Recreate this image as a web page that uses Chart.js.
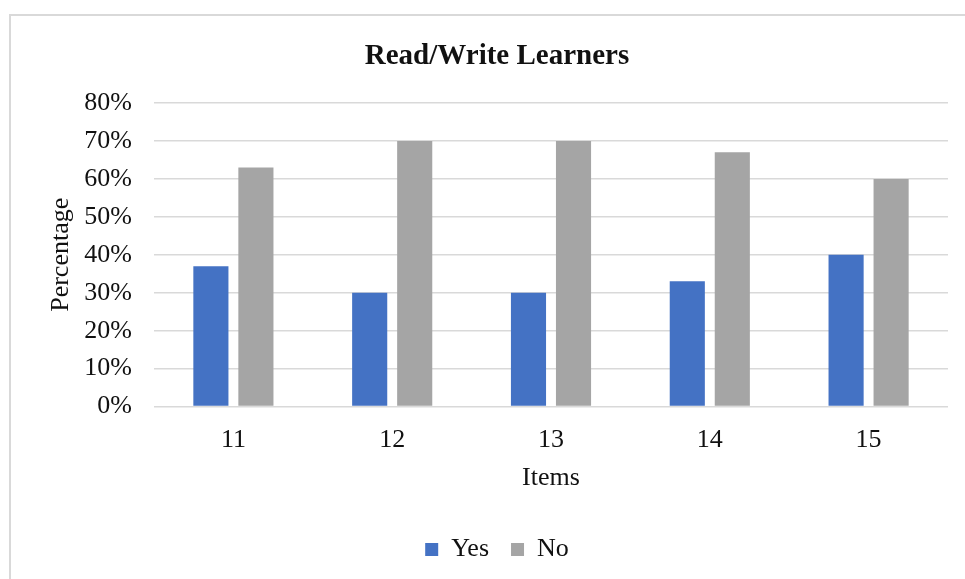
<!DOCTYPE html>
<html>
<head>
<meta charset="utf-8">
<script src="https://cdn.jsdelivr.net/npm/chart.js@4"></script>
<style>
  html, body { margin: 0; padding: 0; background: #fff; overflow: hidden; width: 965px; height: 579px; }
  #frame { position: absolute; left: 9px; top: 14px; width: 1100px; height: 700px; border: 2px solid #d9d9d9; box-sizing: border-box; }
  #c { position: absolute; left: 0; top: 0; }
</style>
</head>
<body>
<div id="frame"></div>
<canvas id="c" width="965" height="579"></canvas>
<script>
const categories = ['11', '12', '13', '14', '15'];
const yesValues = [37, 30, 30, 33, 40];
const noValues = [63, 70, 70, 67, 60];
const seriesNames = ['Yes', 'No'];
const yTickMax = 80;
const yTickStep = 10;

const FONT = "'Liberation Serif', 'Times New Roman', serif";
const TXT = '#111';

new Chart(document.getElementById('c'), {
  type: 'bar',
  data: {
    labels: categories,
    datasets: [
      { label: seriesNames[0], data: yesValues, backgroundColor: '#4472C4', borderWidth: 0,
        categoryPercentage: 0.567, barPercentage: 0.78 },
      { label: seriesNames[1], data: noValues, backgroundColor: '#A5A5A5', borderWidth: 0,
        categoryPercentage: 0.567, barPercentage: 0.78 }
    ]
  },
  options: {
    responsive: false,
    devicePixelRatio: 1,
    animation: false,
    layout: { padding: { left: 46, right: 17, top: 0, bottom: 6.5 } },
    plugins: {
      title: {
        display: true,
        text: 'Read/Write Learners',
        color: TXT,
        font: { family: FONT, size: 29, weight: 'bold', lineHeight: 1.2 },
        padding: { top: 38.8, bottom: 29.4 }
      },
      legend: {
        position: 'bottom',
        labels: {
          color: TXT,
          font: { family: FONT, size: 26 },
          boxWidth: 13,
          boxHeight: 13,
          padding: 22
        }
      },
      tooltip: { enabled: false }
    },
    scales: {
      x: {
        grid: { display: false, drawTicks: false },
        border: { display: false },
        ticks: { color: TXT, font: { family: FONT, size: 26 }, padding: 18 },
        title: {
          display: true, text: 'Items', color: TXT,
          font: { family: FONT, size: 26, lineHeight: 1.2 },
          padding: { top: -11, bottom: 20.5 }
        }
      },
      y: {
        min: 0, max: yTickMax,
        afterFit: (s) => { s.width = 108; },
        grid: { color: '#d9d9d9', lineWidth: 1.5, drawTicks: false },
        border: { display: false },
        ticks: {
          stepSize: yTickStep, color: TXT, padding: 22,
          font: { family: FONT, size: 26 },
          callback: (v) => v + '%'
        },
        title: {
          display: true, text: 'Percentage', color: TXT,
          font: { family: FONT, size: 26, lineHeight: 1.2 },
          padding: { top: 0, bottom: 0 }
        }
      }
    }
  }
});
</script>
</body>
</html>
